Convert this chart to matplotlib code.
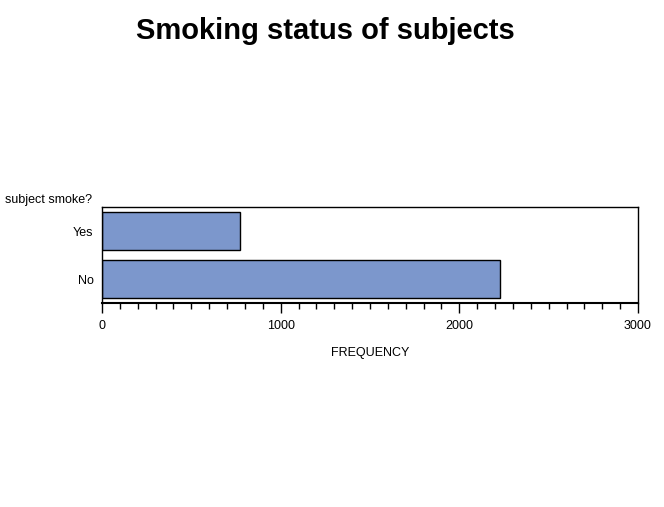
import numpy as np
import matplotlib
matplotlib.use('Agg')
import matplotlib.pyplot as plt
from matplotlib.ticker import MultipleLocator

plt.rcParams['font.family'] = ['Liberation Sans', 'DejaVu Sans']

categories = ['No', 'Yes']
frequency = [2226, 774]
x_ticks = [0, 1000, 2000, 3000]

fig = plt.figure(figsize=(6.64, 5.07), dpi=100)
W, H = 664, 507
ax = fig.add_axes([102 / W, 1 - 303 / H, (638 - 102) / W, (303 - 207) / H])

ypos = np.arange(len(categories))
ax.barh(ypos, frequency, height=0.79, color='#7C97CC', edgecolor='black', linewidth=1.0)

ax.set_xlim(0, 3000)
ax.set_ylim(-0.5, 1.5)
ax.set_yticks(ypos)
ax.set_yticklabels(categories, fontsize=9)
ax.tick_params(axis='y', length=0, pad=6)

ax.set_xticks(x_ticks)
ax.xaxis.set_minor_locator(MultipleLocator(100))
ax.tick_params(axis='x', which='major', length=7, width=1, pad=5, labelsize=9)
ax.tick_params(axis='x', which='minor', length=4, width=1)
for s in ax.spines.values():
    s.set_linewidth(1.0)
ax.spines['bottom'].set_linewidth(1.5)

ax.set_xlabel('FREQUENCY', fontsize=9, labelpad=11)

fig.text(5 / W, 1 - 200 / H, 'subject smoke?', fontsize=9, ha='left', va='center')
fig.text(325 / W, 1 - 31 / H, 'Smoking status of subjects', fontsize=21,
         fontweight='bold', ha='center', va='center')

fig.savefig('out.png', dpi=100)
